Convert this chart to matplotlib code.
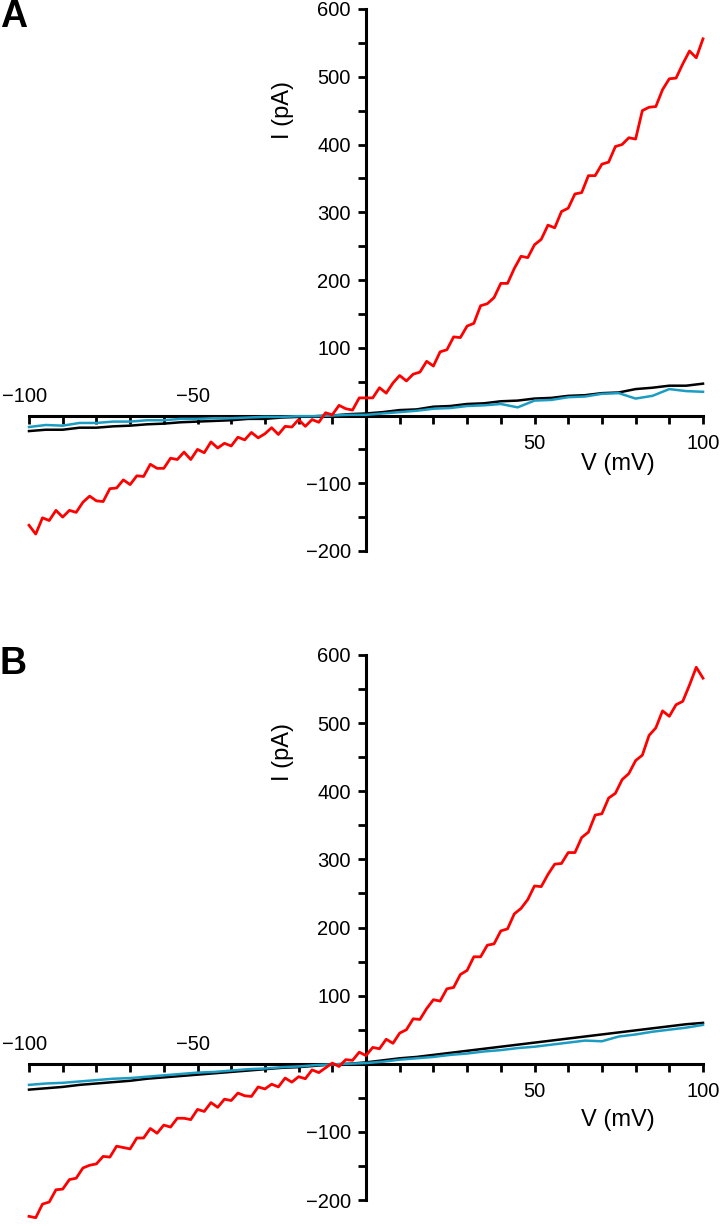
import numpy as np
import matplotlib
matplotlib.use("Agg")
import matplotlib.pyplot as plt
from matplotlib.ticker import MultipleLocator

plt.rcParams['font.family'] = ['Liberation Sans', 'DejaVu Sans']

# ---------------- data ----------------
v_red = np.arange(-100, 101, 2)      # mV
v_lin = np.arange(-100, 101, 5)      # mV

red_A = [-162, -175, -151, -155, -140, -150, -140, -143, -128, -119,
         -126, -127, -108, -107, -95, -102, -89, -90, -72, -78,
         -78, -63, -65, -54, -65, -50, -55, -39, -48, -41,
         -45, -32, -36, -25, -33, -27, -18, -28, -16, -17,
         -6, -16, -6, -10, 4, 1, 15, 10, 8, 26,
         26, 26, 41, 33, 48, 59, 51, 61, 64, 80,
         73, 94, 97, 116, 115, 132, 136, 162, 165, 174,
         195, 195, 217, 235, 233, 252, 260, 281, 277, 301,
         306, 327, 329, 354, 354, 371, 374, 397, 400, 410,
         408, 450, 455, 456, 481, 497, 498, 519, 538, 528,
         556]
black_A = [-23, -21, -21, -18, -18, -16, -15, -13, -12, -10,
           -9, -8, -7, -5, -5, -3, -2, -1, 0, 2,
           3, 5, 8, 9, 13, 14, 17, 18, 21, 22,
           25, 26, 29, 30, 33, 34, 39, 41, 44, 44, 47]
cyan_A = [-17, -14, -15, -11, -11, -9, -9, -7, -7, -5,
          -5, -4, -4, -3, -2, -2, -1, -1, 0, 1,
          1, 3, 5, 7, 10, 11, 14, 15, 17, 12,
          22, 23, 27, 28, 32, 33, 25, 29, 39, 36, 35]

red_B = [-224, -226, -206, -203, -185, -184, -170, -168, -153, -149,
         -147, -136, -137, -121, -123, -125, -109, -109, -95, -102,
         -90, -93, -80, -80, -82, -67, -70, -57, -64, -52,
         -54, -43, -47, -48, -34, -37, -30, -34, -21, -27,
         -19, -22, -9, -13, -6, 1, -4, 6, 5, 17,
         12, 24, 22, 36, 30, 45, 50, 66, 65, 81,
         94, 92, 110, 112, 131, 137, 157, 157, 174, 176,
         195, 198, 220, 228, 241, 261, 260, 278, 293, 294,
         310, 310, 332, 340, 365, 367, 390, 397, 417, 426,
         445, 453, 482, 493, 518, 510, 527, 532, 556, 582,
         566]
black_B = [-38, -36, -34, -31, -29, -27, -25, -22, -20, -18,
           -16, -14, -12, -10, -8, -6, -5, -3, -1, 0,
           2, 5, 8, 10, 13, 16, 19, 22, 25, 28,
           31, 34, 37, 40, 43, 46, 49, 52, 55, 58, 60]
cyan_B = [-31, -29, -28, -26, -24, -22, -21, -19, -17, -15,
          -13, -12, -10, -8, -7, -5, -4, -2, -1, 0,
          1, 3, 6, 8, 10, 13, 15, 18, 20, 23,
          25, 28, 31, 34, 33, 40, 43, 47, 50, 53, 57]

x_major_pos = [50, 100]
x_major_neg = [-100, -50]
y_major = [-200, -100, 100, 200, 300, 400, 500, 600]

RED = '#ff0000'
CYAN = '#1b9dc3'
BLACK = '#000000'
TICK_FS = 14.5

W, H = 720, 1226
fig = plt.figure(figsize=(W / 100, H / 100), dpi=100)


def make_panel(rect, red, black, cyan, letter, letter_xy, ylab_xy, xlab_xy):
    ax = fig.add_axes(rect)
    ax.set_xlim(-100, 100)
    ax.set_ylim(-200, 600)
    ax.plot(v_lin, black, color=BLACK, lw=1.8, clip_on=False, zorder=3)
    ax.plot(v_lin, cyan, color=CYAN, lw=1.8, clip_on=False, zorder=4)
    ax.plot(v_red, red, color=RED, lw=2.0, clip_on=False, zorder=5)

    for s in ['top', 'right']:
        ax.spines[s].set_visible(False)
    ax.spines['left'].set_position(('data', 0))
    ax.spines['bottom'].set_position(('data', 0))
    ax.spines['left'].set_bounds(-200, 600)
    ax.spines['bottom'].set_bounds(-100, 100)
    for s in ['left', 'bottom']:
        ax.spines[s].set_linewidth(2.2)
        ax.spines[s].set_zorder(2)

    ax.set_xticks(x_major_neg + x_major_pos)
    ax.set_xticklabels([''] * len(x_major_neg) + [str(v) for v in x_major_pos],
                       fontsize=TICK_FS)
    ax.xaxis.set_minor_locator(MultipleLocator(10))
    ax.set_yticks(y_major)
    ax.set_yticklabels([str(v).replace('-', '\u2212') for v in y_major],
                       fontsize=TICK_FS)
    ax.yaxis.set_minor_locator(MultipleLocator(50))
    ax.tick_params(which='both', direction='out', length=6, width=2)
    ax.tick_params(axis='x', pad=7)
    ax.tick_params(axis='y', pad=5)

    for v in x_major_neg:
        ax.annotate(str(v).replace('-', '\u2212'), xy=(v, 0), xytext=(-3.5, 13.5),
                    textcoords='offset points', ha='center', va='center',
                    fontsize=TICK_FS)

    fig.text(letter_xy[0] / W, 1 - letter_xy[1] / H, letter, fontsize=27,
             fontweight='bold', ha='center', va='center')
    fig.text(ylab_xy[0] / W, 1 - ylab_xy[1] / H, 'I (pA)', rotation=90,
             fontsize=17, ha='center', va='center')
    fig.text(xlab_xy[0] / W, 1 - xlab_xy[1] / H, 'V (mV)',
             fontsize=17, ha='center', va='center')
    return ax


make_panel([29 / W, 1 - 551 / H, 674 / W, 542 / H], red_A, black_A, cyan_A,
           'A', (14, 17), (283, 110), (618, 464))
make_panel([29 / W, 1 - 1200 / H, 674 / W, 545 / H], red_B, black_B, cyan_B,
           'B', (13, 664), (283, 752), (618, 1120))

fig.savefig('out.png', dpi=100)
